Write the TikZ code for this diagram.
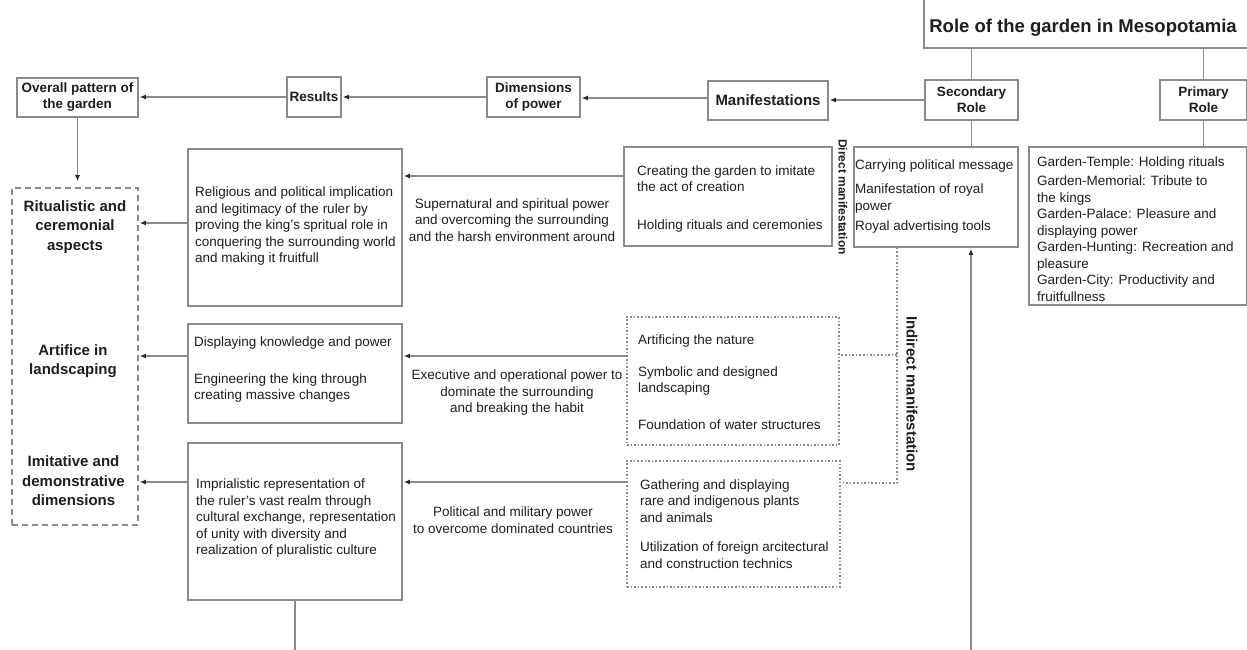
\documentclass[tikz,border=0pt]{standalone}
\usepackage{fontspec}
\setmainfont{Liberation Sans}
\usetikzlibrary{arrows.meta,calc}
\definecolor{linec}{RGB}{138,138,138}
\definecolor{textc}{RGB}{30,30,30}
\definecolor{tipc}{RGB}{40,40,40}
\begin{document}
\begin{tikzpicture}[x=1pt,y=-1pt,
  box/.style={draw=linec, line width=1.6pt, inner sep=0pt, fill=white},
  dotbox/.style={draw=linec, line width=1.6pt, dash pattern=on 1.6pt off 2pt, inner sep=0pt},
  dashbox/.style={draw=linec, line width=1.6pt, dash pattern=on 6pt off 4pt, inner sep=0pt},
  txt/.style={font=\fontsize{13.5}{16.5}\selectfont, text=textc, inner sep=0pt, align=left},
  ctxt/.style={txt, align=center},
  btxt/.style={font=\bfseries\fontsize{13.5}{16}\selectfont, text=textc, inner sep=0pt, align=center},
  bigtxt/.style={font=\bfseries\fontsize{15}{19.5}\selectfont, text=textc, inner sep=0pt, align=center},
  conn/.style={draw=linec, line width=1.6pt},
  arr/.style={conn, -{Latex[length=6pt,width=5pt,color=tipc]}, shorten >=1pt},
  dotconn/.style={draw=linec, line width=1.6pt, dash pattern=on 1.6pt off 2pt},
]
\useasboundingbox (0,0) rectangle (1247,650);

% helper coordinates
\coordinate (y98) at (0,98);
\coordinate (y176) at (0,176);
\coordinate (y223) at (0,223);
\coordinate (y356) at (0,356);
\coordinate (y482) at (0,482);
\coordinate (j1) at (897,355);
\coordinate (j2) at (897,483);
\coordinate (b1) at (971,650);
\coordinate (b2) at (295,650);

% title
\node[box, minimum width=330pt, minimum height=60pt, anchor=south west] (titlebox) at (923,49) {};
\node[font=\bfseries\fontsize{18.5}{20}\selectfont, text=textc, inner sep=0pt] (title) at (1083,28) {Role of the garden in Mesopotamia};

% roles
\node[box, btxt, minimum width=93pt, minimum height=40pt] (secrole) at (971.5,100) {Secondary\\Role};
\node[box, btxt, minimum width=87pt, minimum height=40pt] (primrole) at (1203.5,100) {Primary\\Role};

\node[box, minimum width=164pt, minimum height=100pt] (sec) at (936,197) {};
\node[txt, anchor=west] (sect) at (855,196.5) {Carrying political message\\[8pt]Manifestation of royal\\power\\[4pt]Royal advertising tools};

\node[box, minimum width=218pt, minimum height=158pt] (prim) at (1138,226) {};
\node[txt, anchor=west] (primt) at (1037,229) {Garden-Temple: Holding rituals\\[2.5pt]Garden-Memorial: Tribute to\\the kings\\Garden-Palace: Pleasure and\\displaying power\\Garden-Hunting: Recreation and\\pleasure\\Garden-City: Productivity and\\fruitfullness};

% top chain
\node[box, font=\bfseries\fontsize{15}{17}\selectfont, text=textc, minimum width=120pt, minimum height=39pt] (manif) at (768,100.5) {Manifestations};
\node[box, btxt, minimum width=93pt, minimum height=40pt] (dims) at (533.5,97) {Dimensions\\of power};
\node[box, btxt, minimum width=54pt, minimum height=40pt] (results) at (314,97) {Results};
\node[box, btxt, minimum width=121pt, minimum height=39pt] (overall) at (77.5,97.5) {Overall pattern of\\the garden};

% big dashed box
\node[dashbox, minimum width=126pt, minimum height=337pt] (big) at (75,356.5) {};
\node[bigtxt] (ritual) at (75,227) {Ritualistic and\\ceremonial\\aspects};
\node[bigtxt] (artifice) at (73,361) {Artifice in\\landscaping};
\node[bigtxt] (imit) at (73.5,481) {Imitative and\\demonstrative\\dimensions};

% result boxes
\node[box, minimum width=214pt, minimum height=157pt] (R1) at (295,227.5) {};
\node[txt, anchor=west] (R1t) at (195,226.5) {Religious and political implication\\and legitimacy of the ruler by\\proving the king's spritual role in\\conquering the surrounding world\\and making it fruitfull};

\node[box, minimum width=214pt, minimum height=99pt] (R2) at (295,373.5) {};
\node[txt, anchor=west] (R2t) at (194,370) {Displaying knowledge and power\\[20pt]Engineering the king through\\creating massive changes};

\node[box, minimum width=214pt, minimum height=157pt] (R3) at (295,521.5) {};
\node[txt, anchor=west] (R3t) at (196,518.5) {Imprialistic representation of\\the ruler's vast realm through\\cultural exchange, representation\\of unity with diversity and\\realization of pluralistic culture};

% manifestation boxes
\node[box, minimum width=208pt, minimum height=99pt] (cre) at (728,196.5) {};
\node[txt, anchor=west] (cret) at (637,199) {Creating the garden to imitate\\the act of creation\\[21pt]Holding rituals and ceremonies};

\node[dotbox, minimum width=212pt, minimum height=128pt] (D1) at (733,381) {};
\node[txt, anchor=west] (D1t) at (638,382) {Artificing the nature\\[15pt]Symbolic and designed\\landscaping\\[20pt]Foundation of water structures};

\node[dotbox, minimum width=213pt, minimum height=126pt] (D2) at (733.5,524) {};
\node[txt, anchor=west] (D2t) at (640,524) {Gathering and displaying\\rare and indigenous plants\\and animals\\[13pt]Utilization of foreign arcitectural\\and construction technics};

% labels of powers
\node[ctxt] (l1) at (512,220) {Supernatural and spiritual power\\and overcoming the surrounding\\and the harsh environment around};
\node[ctxt] (l2) at (517,393) {Executive and operational power to\\dominate the surrounding\\and breaking the habit};
\node[ctxt] (l3) at (513,520) {Political and military power\\to overcome dominated countries};

% vertical labels
\node[font=\bfseries\fontsize{12}{14}\selectfont, text=textc, rotate=-90, inner sep=0pt] (direct) at (843,197) {Direct manifestation};
\node[font=\bfseries\fontsize{15}{17}\selectfont, text=textc, rotate=-90, inner sep=0pt] (indirect) at (912,394) {Indirect manifestation};

% connectors
\draw[conn] (titlebox.south -| secrole.north) -- (secrole.north);
\draw[conn] (titlebox.south -| primrole.north) -- (primrole.north);
\draw[conn] (secrole.south) -- (sec.north -| secrole.south);
\draw[conn] (primrole.south) -- (prim.north -| primrole.south);

\draw[arr] (secrole.west) -- (manif.east |- secrole.west);
\draw[arr] (manif.west |- y98) -- (dims.east |- y98);
\draw[arr] (dims.west) -- (results.east |- dims.west);
\draw[arr] (results.west) -- (overall.east |- results.west);
\draw[arr, shorten >=6pt] (overall.south) -- (big.north -| overall.south);

\draw[arr] (cre.west |- y176) -- (R1.east |- y176);
\draw[arr] (R1.west |- y223) -- (big.east |- y223);
\draw[arr] (D1.west |- y356) -- (R2.east |- y356);
\draw[arr] (R2.west |- y356) -- (big.east |- y356);
\draw[arr] (D2.west |- y482) -- (R3.east |- y482);
\draw[arr] (R3.west |- y482) -- (big.east |- y482);

\draw[dotconn] (sec.south -| j1) -- (j2) -- (D2.east |- j2);
\draw[dotconn] (j1) -- (D1.east |- j1);

\draw[arr] (b1) -- (sec.south -| b1);
\draw[conn] (R3.south) -- (b2);
\end{tikzpicture}
\end{document}
